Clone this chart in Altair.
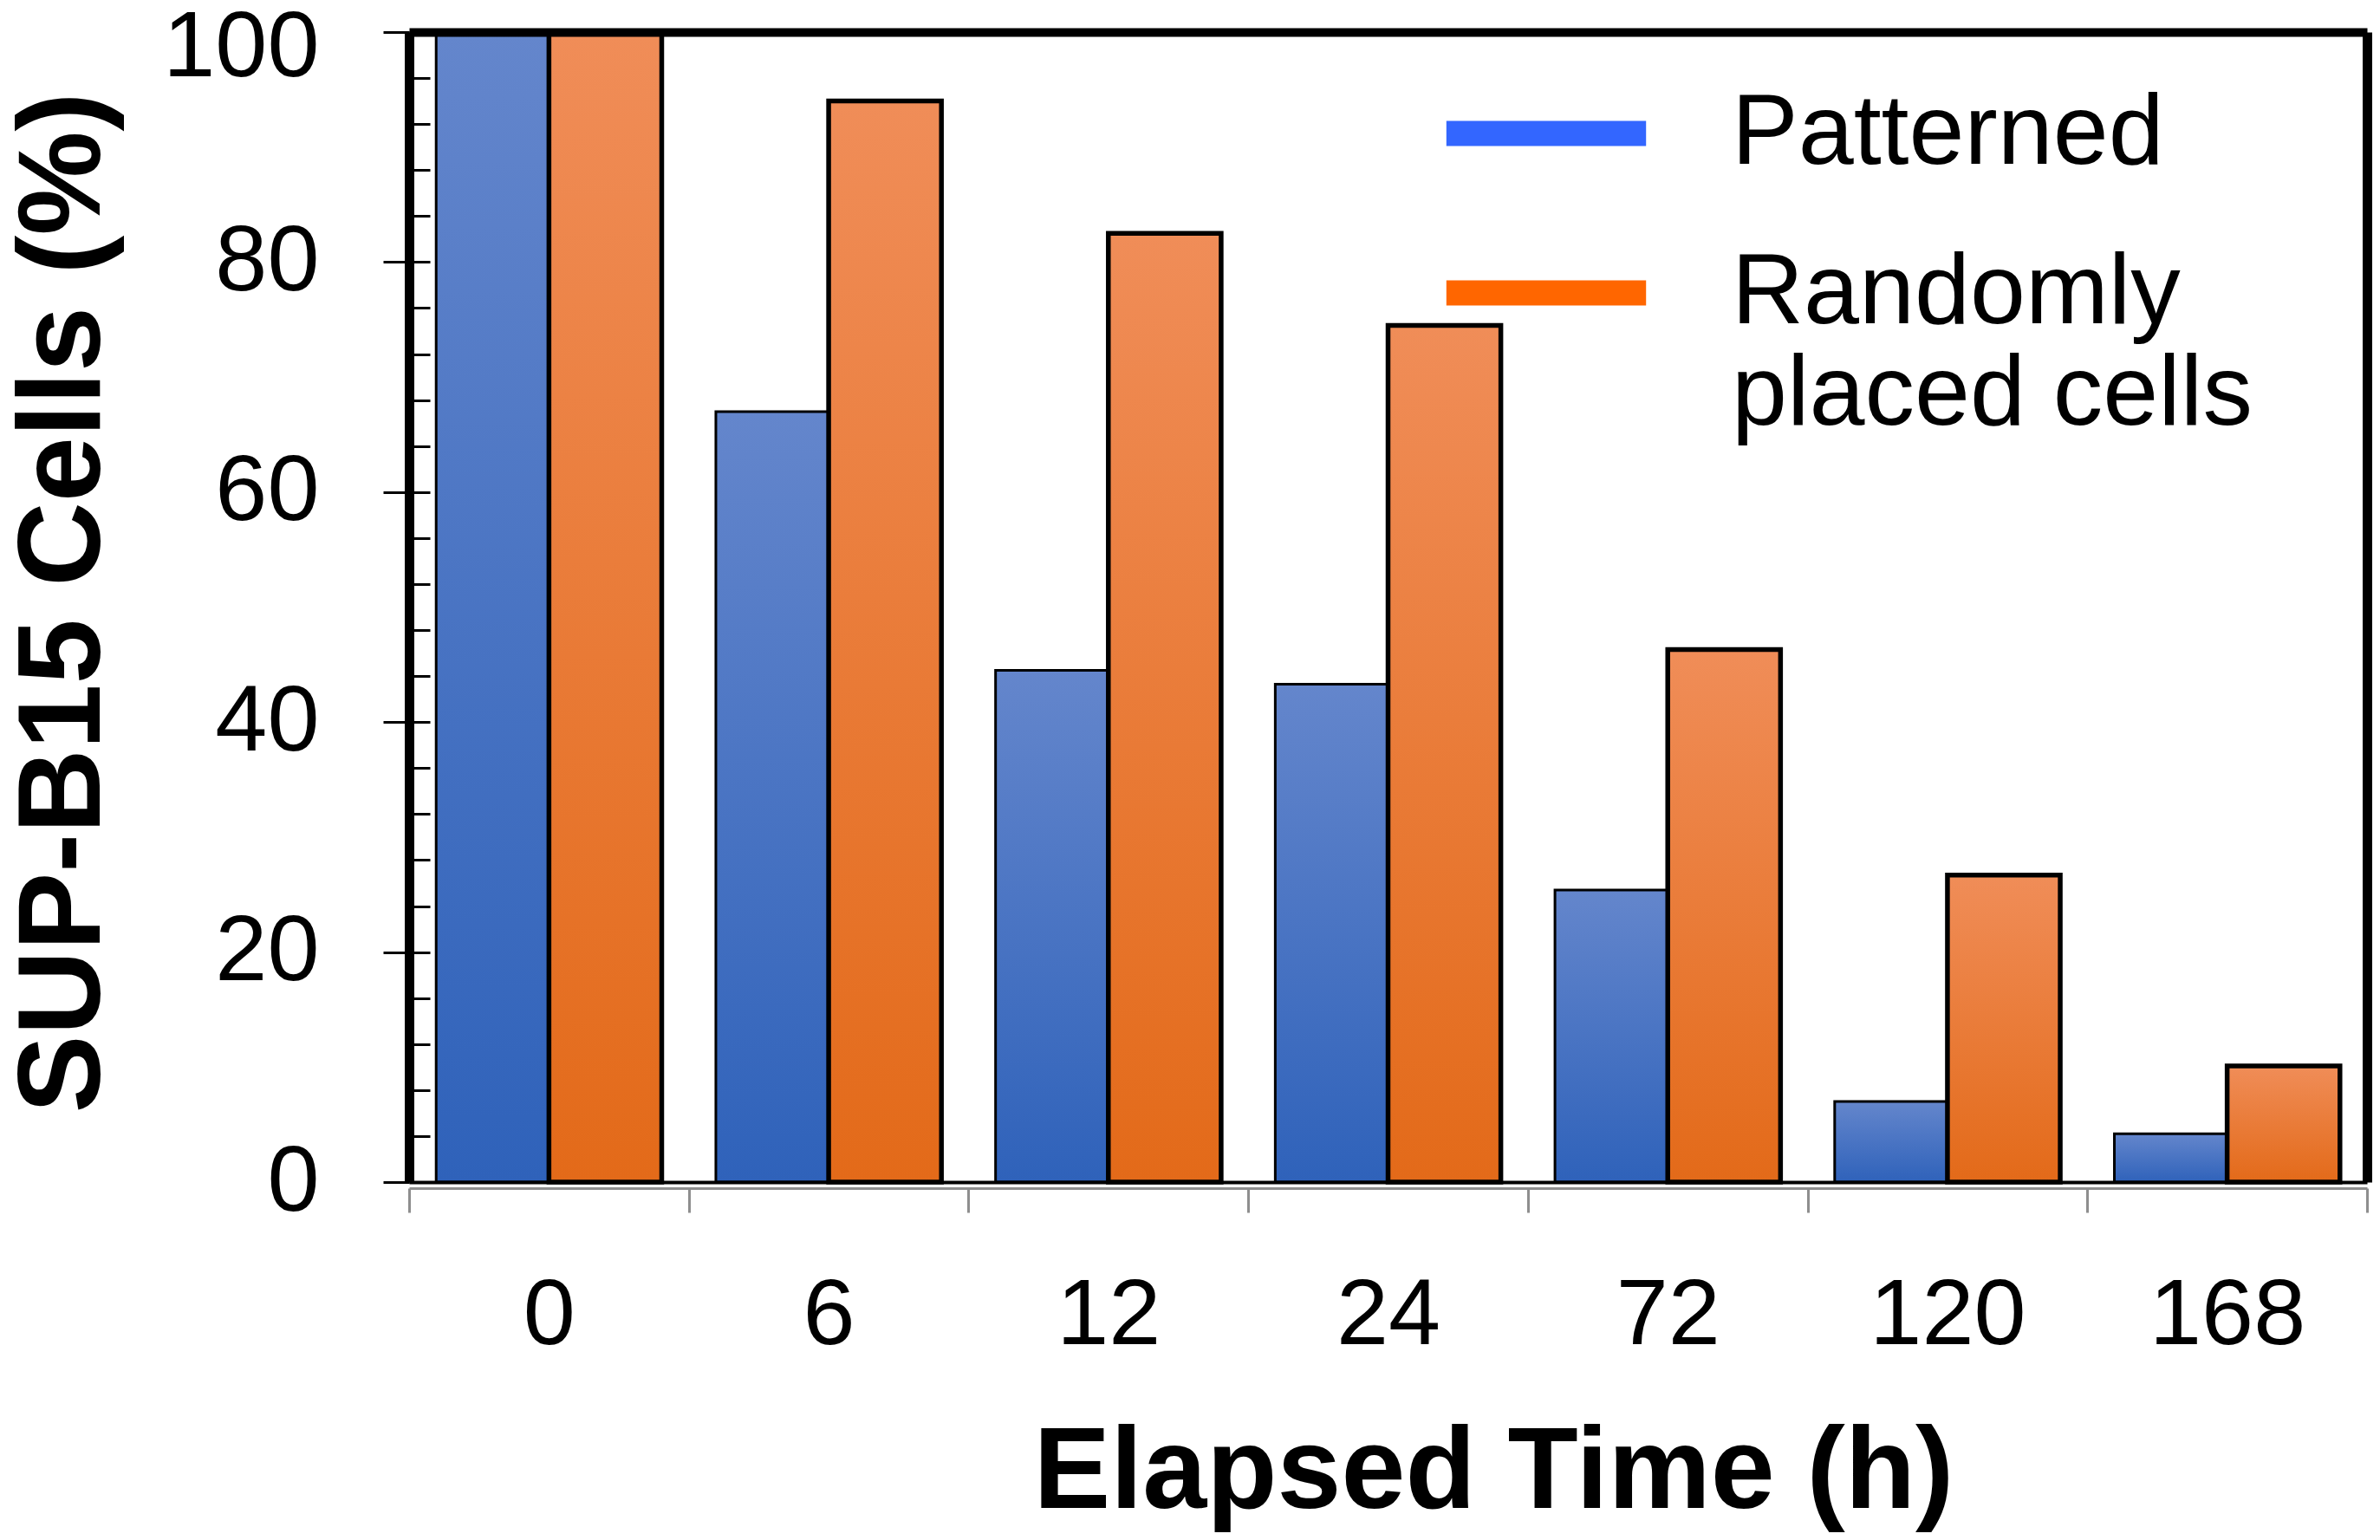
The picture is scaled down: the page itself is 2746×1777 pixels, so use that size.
import altair as alt
import pandas as pd

times = ["0", "6", "12", "24", "72", "120", "168"]
series = ["Patterned", "Randomly placed cells"]
patterned = [100, 67, 44.5, 43.3, 25.4, 7.0, 4.2]
randomly = [100, 94, 82.5, 74.5, 46.3, 26.7, 10.1]
y_major = [0, 20, 40, 60, 80, 100]
y_minor = list(range(0, 101, 4))

rows = []
for t, p, r in zip(times, patterned, randomly):
    rows.append({"time": t, "series": series[0], "value": p})
    rows.append({"time": t, "series": series[1], "value": r})
df = pd.DataFrame(rows)

FONT = "Liberation Sans"
W, H = 2259, 1327

yscale = alt.Scale(domain=[0, 100], nice=False, zero=True)
xscale = alt.Scale(paddingInner=0, paddingOuter=0)
offscale = alt.Scale(domain=series, paddingInner=0, paddingOuter=0.24)

x_axis = alt.Axis(
    orient="bottom",
    title="Elapsed Time (h)", titleFont=FONT, titleFontSize=133, titleFontWeight="bold",
    titleColor="black", titleX=1251, titleY=368, titleAlign="center", titleBaseline="alphabetic",
    labelFont=FONT, labelFontSize=108, labelColor="black", labelAngle=0, labelLimit=1000,
    labelBaseline="alphabetic", labelPadding=151,
    tickBand="extent", tickColor="#8E8E8E", tickWidth=3, tickSize=28,
    domainColor="#8E8E8E", domainWidth=3, offset=7, grid=False,
)
x_top_axis = alt.Axis(
    orient="top", title=None, labels=False, ticks=False, grid=False,
    domainColor="black", domainWidth=10, zindex=1,
)
x_zero_axis = alt.Axis(
    orient="bottom", title=None, labels=False, ticks=False, grid=False,
    domainColor="black", domainWidth=4, zindex=1,
)
y_right_axis = alt.Axis(
    orient="right", title=None, labels=False, ticks=False, grid=False,
    domainColor="black", domainWidth=11, zindex=1,
)
y_left_axis = alt.Axis(
    orient="left", title=None, labels=False, ticks=False, grid=False,
    domainColor="black", domainWidth=11, zindex=1,
)

y_axis = alt.Axis(
    orient="left",
    title="SUP-B15 Cells (%)", titleFont=FONT, titleFontSize=135, titleFontWeight="bold",
    titleColor="black", titleAngle=270, titleX=-358, titleY=658, titleAlign="center",
    titleBaseline="alphabetic",
    values=y_major, labelFont=FONT, labelFontSize=108, labelColor="black", labelLimit=1000,
    labelPadding=74, labelBaseline="middle",
    labelOffset={"condition": {"test": "datum.value == 100", "value": 18}, "value": 0},
    tickColor="black", tickWidth=3, tickSize=30,
    domain=False, grid=False,
)
y_minor_axis = alt.Axis(
    orient="right", offset=-W, values=y_minor, labels=False, title=None,
    tickColor="black", tickWidth=3, tickSize=24, domain=False, grid=False,
)

blue_grad = alt.LinearGradient(
    gradient="linear", x1=0, y1=0, x2=0, y2=1,
    stops=[alt.GradientStop(color="#6486CC", offset=0), alt.GradientStop(color="#2F62BA", offset=1)],
)
orange_grad = alt.LinearGradient(
    gradient="linear", x1=0, y1=0, x2=0, y2=1,
    stops=[alt.GradientStop(color="#F08D58", offset=0), alt.GradientStop(color="#E36A19", offset=1)],
)

base = alt.Chart(df)

blue = base.transform_filter(alt.datum.series == series[0]).mark_bar(
    color=blue_grad, stroke="black", strokeWidth=3
).encode(
    x=alt.X("time:N", sort=times, scale=xscale, axis=x_axis),
    xOffset=alt.XOffset("series:N", scale=offscale),
    y=alt.Y("value:Q", scale=yscale, axis=y_axis),
)

orange = base.transform_filter(alt.datum.series == series[1]).mark_bar(
    color=orange_grad, stroke="black", strokeWidth=5.5
).encode(
    x=alt.X("time:N", sort=times, scale=xscale, axis=None),
    xOffset=alt.XOffset("series:N", scale=offscale),
    y=alt.Y("value:Q", scale=yscale, axis=None),
)

legend_kw = dict(
    title=None, orient="none", legendX=1240, legendY=45, padding=0,
    symbolType="M-1.6,-0.2H1.6V0.2H-1.6Z", symbolSize=20736, symbolStrokeWidth=0,
    labelFont=FONT, labelFontSize=115, labelColor="black", labelLimit=2000,
    labelOffset=142, rowPadding=54, labelBaseline="middle",
    labelExpr="datum.label == 'Randomly placed cells' ? ['Randomly', 'placed cells'] : datum.label",
)

frame_layer = base.transform_filter("false").mark_point(opacity=0).encode(
    x=alt.X("time:N", sort=times, scale=xscale, axis=x_zero_axis),
    y=alt.Y("value:Q", scale=yscale, axis=y_right_axis),
)

left_layer = base.transform_filter("false").mark_point(opacity=0).encode(
    y=alt.Y("value:Q", scale=yscale, axis=y_left_axis),
)


def build(legend):
    legend_layer = base.transform_filter("false").mark_point(filled=True, opacity=1).encode(
        x=alt.X("time:N", sort=times, scale=xscale, axis=x_top_axis),
        y=alt.Y("value:Q", scale=yscale, axis=y_minor_axis),
        color=alt.Color(
            "series:N",
            scale=alt.Scale(domain=series, range=["#3366FF", "#FF6600"]),
            legend=legend,
        ),
    )
    return alt.layer(blue, orange, legend_layer, frame_layer, left_layer).resolve_axis(
        x="independent", y="independent"
    ).properties(
        width=W, height=H,
        autosize=alt.AutoSizeParams(type="none"),
        padding={"left": 464, "top": 29, "right": 7, "bottom": 405},
        background="white",
    ).configure_view(stroke=None)


try:
    chart = build(alt.Legend(labelLineHeight=135, **legend_kw))
    chart.to_dict()
except Exception:
    chart = build(alt.Legend(**legend_kw))

chart.save("out.html", embed_options={"renderer": "svg", "actions": False})
